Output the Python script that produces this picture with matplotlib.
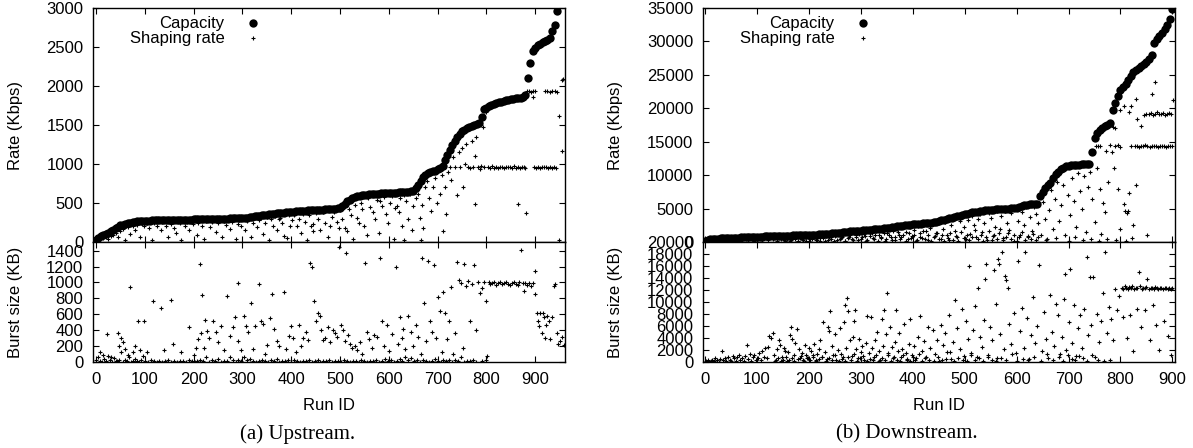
import matplotlib
matplotlib.use('Agg')
import matplotlib.pyplot as plt
import numpy as np

plt.rcParams['font.family'] = ['Liberation Sans', 'DejaVu Sans']
plt.rcParams['font.size'] = 12

# capacity, one value every 5 runs (sorted by capacity)
up_cap = [20, 55, 75, 90, 100, 115, 135, 160, 180, 198,
          212, 224, 234, 243, 250, 256, 261, 265, 268, 271,
          273, 274, 275, 276, 277, 278, 278, 279, 280, 280,
          281, 282, 282, 283, 284, 284, 285, 286, 287, 288,
          289, 290, 290, 291, 292, 293, 294, 294, 295, 296,
          297, 298, 299, 300, 301, 302, 303, 304, 306, 308,
          310, 312, 314, 318, 322, 328, 334, 338, 342, 346,
          350, 354, 358, 362, 366, 370, 374, 377, 380, 383,
          386, 389, 392, 395, 398, 400, 402, 404, 406, 408,
          410, 412, 414, 416, 418, 420, 422, 424, 426, 430,
          440, 460, 490, 520, 545, 565, 578, 588, 595, 600,
          605, 608, 611, 614, 616, 618, 620, 622, 624, 626,
          628, 630, 632, 634, 636, 638, 640, 642, 645, 650,
          660, 690, 730, 780, 830, 860, 880, 895, 905, 915,
          930, 950, 980, 1050, 1120, 1180, 1240, 1290, 1340, 1390,
          1420, 1440, 1460, 1480, 1490, 1500, 1510, 1520, 1600, 1700,
          1720, 1740, 1755, 1770, 1780, 1790, 1800, 1810, 1815, 1820,
          1830, 1835, 1840, 1845, 1850, 1860, 1880, 2100, 2300, 2450,
          2490, 2520, 2540, 2560, 2575, 2590, 2610, 2700, 2780, 2960]

down_cap = [200, 350, 420, 470, 500, 520, 540, 560, 580, 600,
            620, 640, 655, 670, 685, 700, 710, 720, 730, 740,
            760, 790, 820, 850, 870, 890, 900, 910, 920, 930,
            940, 950, 960, 970, 980, 990, 1000, 1010, 1020, 1030,
            1050, 1070, 1090, 1110, 1130, 1160, 1190, 1220, 1260, 1300,
            1340, 1380, 1420, 1460, 1500, 1540, 1580, 1610, 1640, 1670,
            1700, 1740, 1780, 1820, 1860, 1900, 1940, 1980, 2020, 2060,
            2100, 2150, 2200, 2260, 2320, 2380, 2430, 2480, 2530, 2580,
            2620, 2660, 2700, 2740, 2780, 2820, 2860, 2900, 2960, 3050,
            3150, 3250, 3350, 3450, 3550, 3650, 3750, 3850, 3950, 4050,
            4150, 4250, 4350, 4430, 4500, 4560, 4620, 4680, 4730, 4780,
            4820, 4860, 4890, 4920, 4950, 4970, 4990, 5010, 5040, 5070,
            5100, 5200, 5400, 5550, 5600, 5650, 5680, 5700, 5750, 6900,
            7500, 8100, 8500, 8900, 9500, 10100, 10500, 10900, 11100, 11300,
            11400, 11450, 11500, 11550, 11580, 11600, 11620, 11650, 11680, 13500,
            15500, 16300, 16700, 17100, 17400, 17500, 17800, 19700, 20800, 21800,
            22700, 23200, 23600, 24200, 24900, 25400, 25700, 26000, 26300, 26600,
            26900, 27300, 28000, 29700, 30300, 30800, 31200, 31800, 32500, 33300,
            34900]

# shaping rate (run, Kbps)
up_shape = [(2, 40), (5, 30), (8, 60), (10, 45), (12, 70), (15, 50), (18, 80), (20, 60), (22, 95), (25, 40),
            (28, 110), (30, 75), (33, 130), (35, 90), (38, 150), (40, 120), (42, 160), (45, 60), (48, 180), (50, 140),
            (53, 190), (55, 170), (58, 200), (60, 30), (62, 210), (65, 190), (68, 220), (70, 100), (72, 230), (75, 200),
            (78, 240), (80, 160), (83, 245), (85, 220), (88, 250), (90, 60), (92, 255), (95, 230), (98, 200), (100, 258),
            (105, 250), (108, 180), (112, 262), (115, 30), (118, 240), (122, 265), (125, 200), (130, 268), (133, 150),
            (136, 255), (140, 270), (143, 210), (147, 60), (150, 265), (153, 230), (157, 272), (160, 180), (164, 120),
            (168, 268), (172, 240), (175, 20), (178, 274), (182, 200), (186, 260), (190, 160), (194, 276), (198, 230),
            (202, 280), (206, 90), (210, 250), (214, 282), (218, 210), (222, 40), (226, 270), (230, 284), (234, 190),
            (238, 260), (242, 286), (246, 130), (250, 240), (254, 288), (258, 70), (262, 270), (266, 220), (270, 290),
            (274, 170), (278, 255), (282, 292), (286, 40), (290, 230), (294, 280), (298, 200), (302, 295), (306, 150),
            (310, 270), (314, 300), (318, 60), (322, 240), (326, 305), (330, 190), (334, 280), (338, 310), (342, 100),
            (346, 250), (350, 320), (354, 20), (358, 290), (362, 210), (366, 330), (370, 160), (374, 300), (378, 313),
            (382, 250), (386, 80), (391, 55), (395, 340), (398, 204), (402, 280), (406, 350), (411, 204), (415, 300),
            (420, 120), (424, 360), (428, 260), (432, 30), (436, 340), (440, 200), (445, 142), (445, 233), (450, 370),
            (455, 290), (460, 150), (465, 380), (470, 240), (475, 60), (479, 204), (483, 320), (488, 390), (493, 262),
            (497, 180), (500, 410), (505, 300), (510, 180), (514, 142), (518, 420), (522, 350), (527, 34), (530, 480),
            (534, 312), (538, 250), (542, 500), (546, 420), (550, 200), (555, 85), (558, 560), (562, 450), (568, 391),
            (572, 300), (576, 540), (580, 120), (582, 529), (586, 460), (590, 580), (595, 356), (598, 250), (602, 500),
            (606, 590), (610, 40), (613, 430), (616, 459), (620, 380), (623, 562), (627, 200), (631, 600), (632, 30),
            (635, 520), (639, 300), (643, 610), (647, 150), (650, 459), (655, 560), (660, 620), (664, 314), (666, 30),
            (668, 480), (671, 185), (675, 700), (678, 786), (682, 560), (686, 400), (691, 700), (695, 820), (699, 500),
            (705, 614), (708, 860), (711, 142), (715, 700), (718, 356), (721, 900), (725, 958), (728, 800), (732, 1090),
            (736, 960), (740, 600), (743, 1150), (745, 958), (749, 1200), (752, 700), (756, 1000), (759, 1258),
            (763, 960), (766, 950), (770, 1300), (773, 960), (776, 1100), (777, 485), (779, 1345), (782, 960),
            (786, 940), (789, 970), (793, 1472), (796, 960), (800, 1665), (804, 965), (808, 950), (812, 970),
            (816, 955), (820, 960), (824, 948), (828, 968), (832, 958), (836, 952), (840, 966), (844, 957), (848, 962),
            (852, 950), (856, 970), (860, 955), (864, 485), (864, 960), (868, 945), (872, 965), (876, 958), (880, 950),
            (882, 375), (883, 1930), (887, 1935), (891, 1925), (895, 1858), (895, 1940), (898, 962), (899, 1930),
            (902, 955), (906, 968), (910, 950), (914, 960), (918, 957), (920, 1935), (922, 965), (925, 1930),
            (926, 948), (930, 1925), (930, 960), (934, 955), (935, 1940), (938, 962), (940, 1930), (942, 950),
            (944, 1920), (948, 1620), (948, 30), (954, 2073), (954, 1170), (957, 2090)]

down_shape = [(2, 100), (6, 250), (10, 150), (14, 350), (18, 200), (22, 400), (26, 100), (30, 380), (34, 250),
              (38, 450), (42, 300), (46, 150), (50, 500), (54, 350), (58, 200), (62, 550), (66, 400), (70, 100),
              (74, 600), (78, 450), (82, 250), (86, 650), (90, 500), (94, 150), (98, 680), (102, 400), (106, 700),
              (110, 250), (114, 600), (118, 750), (122, 300), (126, 800), (130, 500), (134, 820), (138, 200),
              (142, 700), (146, 450), (150, 850), (154, 100), (158, 600), (162, 880), (166, 350), (170, 750),
              (174, 900), (178, 200), (182, 650), (186, 500), (190, 930), (194, 150), (198, 800), (202, 400),
              (206, 1000), (210, 700), (214, 250), (218, 1050), (222, 550), (226, 900), (230, 150), (234, 1100),
              (238, 700), (242, 400), (246, 1180), (250, 900), (254, 300), (258, 1250), (262, 600), (266, 1100),
              (270, 200), (274, 1350), (278, 800), (282, 500), (286, 1400), (290, 1000), (294, 300), (298, 1500),
              (302, 700), (306, 1200), (310, 100), (314, 1600), (318, 900), (322, 1300), (326, 400), (330, 1700),
              (334, 1000), (338, 600), (342, 1750), (346, 200), (350, 1400), (354, 1900), (358, 800), (362, 1600),
              (366, 300), (370, 2000), (374, 1100), (378, 700), (382, 2200), (386, 1500), (390, 400), (394, 2300),
              (398, 900), (402, 1800), (406, 200), (410, 2400), (414, 1300), (418, 600), (422, 2500), (426, 1600),
              (430, 300), (434, 2100), (438, 2700), (442, 900), (446, 1400), (450, 2800), (454, 500), (458, 2000),
              (462, 3000), (466, 1100), (470, 300), (474, 2600), (478, 3400), (482, 1700), (486, 700), (490, 3100),
              (494, 3700), (498, 2200), (502, 400), (506, 3300), (510, 1200), (514, 3900), (518, 2600), (522, 800),
              (526, 3500), (530, 4200), (534, 1500), (538, 2900), (542, 300), (546, 4400), (550, 3600), (554, 900),
              (558, 2300), (562, 4600), (566, 1300), (570, 3900), (574, 600), (578, 4700), (582, 2800), (586, 1800),
              (590, 4300), (594, 200), (598, 4900), (602, 3200), (606, 1100), (610, 4500), (614, 2500), (618, 5200),
              (622, 700), (626, 3800), (630, 1600), (634, 5300), (638, 4200), (642, 2900), (646, 1000), (650, 6000),
              (654, 3500), (658, 500), (662, 4800), (666, 7800), (670, 2000), (674, 6500), (678, 9000), (682, 3200),
              (686, 5500), (690, 8600), (694, 1000), (698, 7000), (702, 4000), (706, 9600), (710, 6200), (714, 2200),
              (718, 10300), (722, 7600), (726, 5000), (730, 9800), (734, 1500), (738, 8200), (742, 10500),
              (746, 6500), (750, 3000), (752, 14400), (754, 11000), (756, 14300), (760, 8000), (760, 14350),
              (762, 1200), (766, 5800), (770, 4500), (772, 13600), (776, 9000), (780, 14500), (784, 13400),
              (786, 17200), (788, 11000), (790, 17000), (790, 14300), (795, 14500), (795, 8000), (800, 19700),
              (800, 2000), (800, 14200), (806, 5700), (807, 20300), (809, 4700), (812, 4400), (815, 4600),
              (817, 19500), (817, 7300), (820, 14300), (821, 20300), (825, 2500), (828, 14400), (829, 21400),
              (830, 8500), (832, 18400), (832, 14300), (836, 14200), (840, 17400), (840, 14350), (844, 14300),
              (846, 19000), (848, 14450), (850, 19200), (852, 14300), (854, 19100), (856, 14200), (858, 19300),
              (860, 22200), (860, 14400), (862, 19000), (864, 14300), (866, 24000), (866, 19200), (868, 14350),
              (870, 19400), (872, 14250), (874, 19100), (876, 14400), (878, 19200), (880, 14300), (882, 19300),
              (884, 14350), (886, 19000), (888, 14200), (890, 19200), (892, 14400), (894, 19300), (896, 14300),
              (898, 19100), (900, 14350), (902, 21200),
              # dense floor of low shaping rates
              (152, 300), (157, 500), (163, 200), (168, 650), (173, 400), (179, 100), (184, 550), (189, 300),
              (195, 700), (200, 200), (205, 500), (211, 800), (216, 350), (221, 150), (227, 600), (232, 900),
              (237, 300), (243, 700), (248, 200), (253, 1000), (259, 450), (264, 800), (269, 150), (275, 600),
              (280, 1100), (285, 300), (291, 800), (296, 1200), (301, 400), (307, 900), (312, 250), (317, 1300),
              (323, 600), (328, 1000), (333, 200), (339, 800), (344, 1400), (349, 500), (355, 1100), (360, 300),
              (365, 700), (371, 1500), (376, 400), (381, 1000), (387, 200), (392, 1300), (397, 600), (403, 1100),
              (408, 300), (413, 800), (419, 1600), (424, 400), (429, 1000), (435, 200), (440, 700), (445, 1300),
              (451, 400), (456, 1000), (461, 150), (467, 600), (472, 1400), (477, 300), (483, 900), (488, 200),
              (493, 1500), (499, 600), (504, 1100), (509, 300), (515, 800), (520, 1800), (525, 400), (531, 1000),
              (536, 200), (541, 700), (547, 1600), (552, 300), (557, 1000), (563, 500), (568, 1900), (573, 250),
              (579, 800), (584, 1300), (589, 400), (595, 1100), (600, 200), (605, 700), (611, 1500), (616, 300),
              (621, 900), (627, 400), (632, 1200), (637, 300), (641, 800), (656, 300), (676, 600), (700, 200),
              (712, 700), (728, 300), (744, 500), (758, 200), (775, 400), (792, 300), (810, 200), (822, 600),
              (852, 1000)]

# burst size (run, KB)
up_burst = [(0, 30), (4, 60), (8, 15), (12, 5), (16, 40), (20, 10), (24, 80), (28, 20), (32, 5), (36, 50), (40, 15),
            (44, 10), (48, 30), (52, 120), (56, 5), (60, 20), (64, 10), (68, 60), (72, 5), (76, 15), (80, 40),
            (84, 10), (88, 5), (92, 25), (96, 70), (100, 10), (106, 5), (112, 20), (118, 10), (124, 5), (130, 15),
            (136, 5), (142, 10), (148, 20), (154, 5), (160, 10), (166, 5), (172, 15), (178, 10), (184, 5), (190, 20),
            (196, 10), (202, 5), (208, 15), (214, 30), (220, 10), (226, 60), (232, 5), (238, 20), (244, 10), (250, 40),
            (256, 5), (262, 15), (268, 10), (274, 60), (280, 20), (286, 5), (292, 30), (298, 10), (304, 60), (310, 20),
            (316, 40), (322, 10), (328, 5), (334, 15), (340, 30), (346, 10), (352, 5), (358, 20), (364, 10), (370, 40),
            (376, 5), (382, 15), (388, 10), (394, 30), (400, 5), (406, 20), (412, 10), (418, 5), (424, 15), (430, 10),
            (436, 20), (442, 5), (448, 10), (454, 30), (460, 5), (466, 15), (472, 10), (478, 20), (484, 5), (490, 10),
            (496, 15), (502, 5), (508, 20), (514, 10), (520, 5), (526, 15), (532, 10), (538, 5), (544, 20), (550, 10),
            (556, 5), (562, 15), (568, 10), (574, 30), (580, 5), (586, 15), (592, 40), (598, 10), (604, 20), (610, 5),
            (616, 15), (622, 40), (628, 10), (634, 60), (640, 20), (646, 50), (652, 10), (658, 30), (664, 5),
            (670, 20), (676, 10), (682, 5), (688, 15), (694, 40), (700, 10), (706, 5), (712, 20), (718, 10),
            (724, 30), (730, 5), (736, 20), (742, 10), (748, 60), (754, 5), (760, 15), (766, 10), (772, 20), (778, 5),
            (790, 10), (800, 30),
            (8, 130), (14, 90), (22, 350), (30, 60), (45, 360), (48, 200), (52, 300), (56, 250), (60, 160),
            (65, 90), (70, 940), (75, 120), (80, 200), (86, 510), (90, 150), (98, 520), (105, 130), (117, 770),
            (134, 680), (140, 150), (154, 780), (158, 220), (175, 130), (191, 440), (200, 90), (205, 170), (210, 290),
            (213, 1230), (216, 370), (218, 840), (222, 180), (224, 530), (228, 390), (232, 300), (240, 520),
            (245, 380), (250, 250), (256, 450), (262, 150), (269, 830), (275, 330), (280, 440), (285, 570),
            (290, 270), (292, 990), (298, 150), (304, 580), (308, 450), (312, 380), (318, 740), (322, 160),
            (326, 450), (333, 975), (338, 520), (342, 480), (346, 100), (350, 210), (356, 550), (360, 860),
            (364, 410), (370, 260), (376, 200), (385, 880), (390, 160), (395, 330), (400, 450), (404, 300),
            (410, 130), (415, 460), (420, 200), (425, 300), (430, 380), (434, 280), (438, 1245), (442, 1198),
            (446, 770), (450, 520), (454, 610), (458, 580), (462, 400), (465, 280), (470, 300), (475, 440),
            (480, 250), (485, 400), (490, 360), (494, 310), (498, 1450), (502, 470), (506, 400), (510, 260),
            (512, 1368), (516, 340), (520, 230), (525, 170), (530, 200), (535, 150), (540, 250), (545, 100),
            (552, 1248), (556, 380), (560, 290), (565, 180), (570, 340), (575, 310), (582, 1312), (586, 520),
            (590, 200), (596, 470), (600, 140), (606, 350), (614, 1198), (618, 220), (622, 560), (626, 300),
            (630, 420), (634, 160), (640, 580), (645, 380), (650, 200), (655, 460), (660, 320), (665, 100),
            (669, 1312), (672, 740), (676, 260), (680, 1270), (684, 520), (688, 380), (693, 1219), (697, 300),
            (700, 820), (704, 640), (708, 120), (712, 880), (716, 620), (720, 290), (724, 520), (728, 940),
            (732, 100), (736, 360), (740, 1261), (744, 1030), (748, 990), (752, 180), (755, 1231), (758, 960),
            (762, 1020), (766, 520), (770, 980), (774, 1219), (778, 400), (782, 1000), (786, 870), (790, 930),
            (795, 1010), (799, 770), (802, 80), (805, 1000), (808, 980), (812, 990), (816, 1010), (820, 970),
            (824, 990), (828, 1000), (832, 975), (836, 990), (840, 1010), (844, 980), (848, 970), (852, 995),
            (856, 1000), (860, 985), (864, 965), (866, 1010), (870, 1410), (874, 990), (878, 890), (880, 990),
            (884, 970), (888, 990), (892, 960), (896, 990), (900, 1147), (900, 850), (903, 620), (906, 520),
            (908, 450), (910, 620), (913, 370), (916, 620), (918, 560), (920, 300), (922, 470), (925, 580),
            (928, 520), (930, 290), (934, 560), (938, 960), (940, 980), (944, 370), (946, 220), (950, 260),
            (955, 310), (958, 210)]

down_burst = [(2, 100), (5, 300), (8, 50), (11, 200), (14, 400), (17, 100), (20, 600), (23, 250), (26, 50),
              (29, 500), (32, 1800), (35, 300), (38, 700), (41, 150), (44, 900), (47, 400), (50, 100), (53, 1000),
              (56, 600), (59, 200), (62, 800), (65, 1100), (68, 300), (71, 600), (74, 150), (77, 1000), (80, 2800),
              (83, 500), (86, 1300), (89, 200), (92, 900), (95, 1100), (98, 400), (101, 700), (104, 1500), (107, 300),
              (110, 1900), (113, 900), (116, 2400), (119, 600), (122, 2500), (124, 4400), (127, 4000), (130, 4900),
              (133, 1200), (136, 300), (139, 2100), (142, 3600), (145, 2800), (148, 800), (151, 2400), (154, 1800),
              (157, 200), (160, 1600), (163, 4500), (165, 5800), (168, 3800), (171, 1100), (174, 3200), (177, 5500),
              (180, 2200), (183, 700), (186, 1500), (189, 400), (192, 2800), (195, 1200), (198, 600), (201, 2400),
              (204, 1900), (207, 900), (210, 3000), (213, 300), (216, 1400), (219, 2200), (222, 3700), (225, 800),
              (228, 6700), (231, 1600), (234, 500), (236, 5800), (238, 5100), (241, 8500), (244, 2600), (247, 1200),
              (250, 4700), (253, 300), (256, 2000), (259, 5700), (262, 1400), (265, 900), (268, 6700), (270, 9500),
              (272, 2300), (274, 10600), (276, 8500), (279, 3600), (282, 1000), (284, 4100), (286, 6900),
              (288, 8700), (291, 2200), (294, 600), (297, 3900), (300, 1700), (303, 2600), (306, 400), (309, 3200),
              (312, 7700), (315, 1500), (319, 7500), (322, 2300), (325, 800), (328, 3700), (331, 5000), (334, 1900),
              (337, 300), (340, 7100), (343, 2600), (345, 8600), (348, 4700), (350, 11500), (353, 1200), (356, 5800),
              (359, 2500), (362, 600), (365, 3400), (368, 8600), (371, 1800), (374, 4900), (377, 900), (380, 2200),
              (383, 6300), (386, 1500), (389, 300), (392, 3000), (395, 7200), (398, 1100), (402, 2600), (406, 600),
              (410, 4200), (414, 7600), (418, 1800), (422, 3500), (426, 900), (430, 5900), (434, 2400), (438, 5300),
              (442, 1300), (446, 3700), (450, 200), (454, 6200), (458, 2900), (462, 4800), (466, 1600), (470, 7900),
              (474, 500), (478, 3300), (482, 10300), (486, 5600), (490, 2100), (494, 8900), (498, 1000), (502, 6800),
              (506, 3900), (508, 16000), (512, 1500), (516, 5300), (520, 9300), (524, 800), (526, 12300),
              (530, 4100), (534, 2500), (538, 7000), (540, 13900), (541, 16400), (545, 1200), (549, 5800),
              (553, 3600), (556, 15400), (560, 9700), (563, 700), (565, 17100), (566, 16300), (568, 4700),
              (572, 18250), (575, 2200), (577, 14300), (580, 13600), (583, 12300), (586, 6400), (590, 3000),
              (594, 8100), (598, 1500), (603, 16900), (607, 5200), (611, 9000), (615, 2400), (617, 18250),
              (620, 7300), (624, 500), (628, 4500), (632, 10800), (636, 3200), (640, 6000), (644, 16100),
              (648, 1800), (652, 8400), (656, 3900), (660, 600), (664, 11200), (668, 5000), (672, 2700), (676, 9600),
              (680, 7800), (684, 1300), (688, 4200), (692, 10500), (693, 14700), (696, 2000), (700, 6600),
              (703, 15500), (706, 3100), (710, 9500), (714, 1000), (718, 5600), (722, 7800), (726, 2400),
              (730, 8800), (735, 17500), (738, 4500), (741, 14100), (744, 6200), (747, 14100), (750, 900),
              (754, 8000), (758, 3300), (762, 6900), (766, 11500), (770, 18400), (774, 4800), (778, 9200),
              (782, 7100), (786, 3600), (790, 12100), (794, 8600), (798, 11000), (802, 12400), (805, 12200),
              (808, 12600), (811, 12300), (814, 12100), (817, 12500), (820, 12300), (823, 12700), (826, 12200),
              (829, 12400), (832, 12300), (836, 15000), (838, 12600), (841, 12200), (844, 12400), (847, 12300),
              (850, 12500), (852, 13900), (855, 12200), (858, 12400), (861, 12300), (864, 12100), (867, 12500),
              (870, 12300), (873, 12200), (876, 12400), (879, 12300), (882, 12100), (885, 12300), (888, 12400),
              (891, 12200), (894, 12300), (897, 12100), (900, 12300), (805, 7500), (812, 4000), (818, 7900),
              (825, 1800), (832, 8800), (840, 5800), (848, 8700), (856, 3600), (862, 9500), (868, 6200), (875, 2000),
              (884, 6900), (892, 4400), (898, 1100),
              # dense floor of small bursts
              (135, 200), (140, 600), (146, 100), (150, 400), (155, 900), (161, 300), (167, 700), (172, 150),
              (178, 500), (184, 1000), (190, 200), (196, 600), (202, 300), (208, 1100), (214, 150), (220, 500),
              (226, 800), (232, 200), (239, 600), (245, 300), (251, 1200), (257, 100), (263, 500), (269, 200),
              (275, 800), (281, 300), (287, 1400), (293, 200), (299, 600), (305, 1000), (311, 200), (317, 500),
              (323, 300), (329, 1100), (335, 100), (341, 700), (347, 300), (352, 1500), (358, 200), (364, 900),
              (370, 400), (376, 100), (382, 1200), (388, 500), (394, 200), (400, 800), (405, 300), (412, 1300),
              (418, 200), (424, 600), (432, 400), (440, 100), (448, 900), (456, 300), (464, 500), (472, 1600),
              (480, 200), (488, 700), (496, 400), (504, 100), (512, 1100), (520, 300), (528, 600), (536, 200),
              (544, 900), (552, 400), (560, 100), (570, 700), (580, 300), (592, 1300), (600, 200), (612, 500),
              (622, 300), (634, 900), (646, 200), (658, 1400), (670, 400), (682, 800), (690, 200), (698, 1100),
              (706, 500), (712, 300), (720, 1000), (728, 600), (736, 200), (746, 1200), (756, 400), (768, 200),
              (780, 300)]

fig = plt.figure(figsize=(11.93, 4.48), dpi=100)


def draw_panel(left, cap, shape, burst, xlim, rate_max, rate_step, burst_top, burst_step,
               caption, cap_x, label_x):
    ax_r = fig.add_axes([left, 0.4598, 0.3956, 0.5223])
    ax_b = fig.add_axes([left, 0.192, 0.3956, 0.268], sharex=ax_r)

    runs = np.arange(len(cap)) * 5
    ax_r.scatter(runs, cap, s=36, c='black', marker='o', linewidths=0, label='Capacity', zorder=3)
    sx, sy = zip(*shape)
    ax_r.scatter(sx, sy, s=9, c='black', marker='+', linewidths=0.8, label='Shaping rate', zorder=2)
    bx, by = zip(*burst)
    ax_b.scatter(bx, by, s=9, c='black', marker='+', linewidths=0.8)

    ax_r.set_xlim(*xlim)
    ax_r.set_ylim(0, rate_max)
    ax_r.set_yticks(np.arange(0, rate_max + 1, rate_step))
    ax_b.set_ylim(0, burst_top)
    ax_b.set_yticks(np.arange(0, burst_top + 1, burst_step))
    ax_b.set_xticks(np.arange(0, 901, 100))

    for ax in (ax_r, ax_b):
        ax.tick_params(direction='in', top=True, right=True, length=4, width=0.8, pad=7)
        for sp in ax.spines.values():
            sp.set_linewidth(1.0)
    ax_r.tick_params(labelbottom=False)

    ax_r.set_ylabel('Rate (Kbps)')
    ax_b.set_ylabel('Burst size (KB)')
    ax_r.yaxis.set_label_coords(label_x, 0.5)
    ax_b.yaxis.set_label_coords(label_x, 0.5)
    ax_b.set_xlabel('Run ID', labelpad=8)

    ax_r.legend(loc='upper right', bbox_to_anchor=(0.365, 0.985), markerfirst=False, alignment='right',
                frameon=False, handletextpad=1.2, borderpad=0.25, labelspacing=0.0, handlelength=1.0,
                scatterpoints=1, borderaxespad=0)

    fig.text(cap_x, 0.031, caption, ha='center', va='center', family=['Liberation Serif', 'DejaVu Serif'],
             fontsize=15)


draw_panel(0.078, up_cap, up_shape, up_burst, (-6, 961), 3000, 500, 1510, 200,
           '(a) Upstream.', 0.2494, -0.148)
draw_panel(0.5893, down_cap, down_shape, down_burst, (-4, 905), 35000, 5000, 20000, 2000,
           '(b) Downstream.', 0.760, -0.17)

fig.savefig('out.png', dpi=100)
